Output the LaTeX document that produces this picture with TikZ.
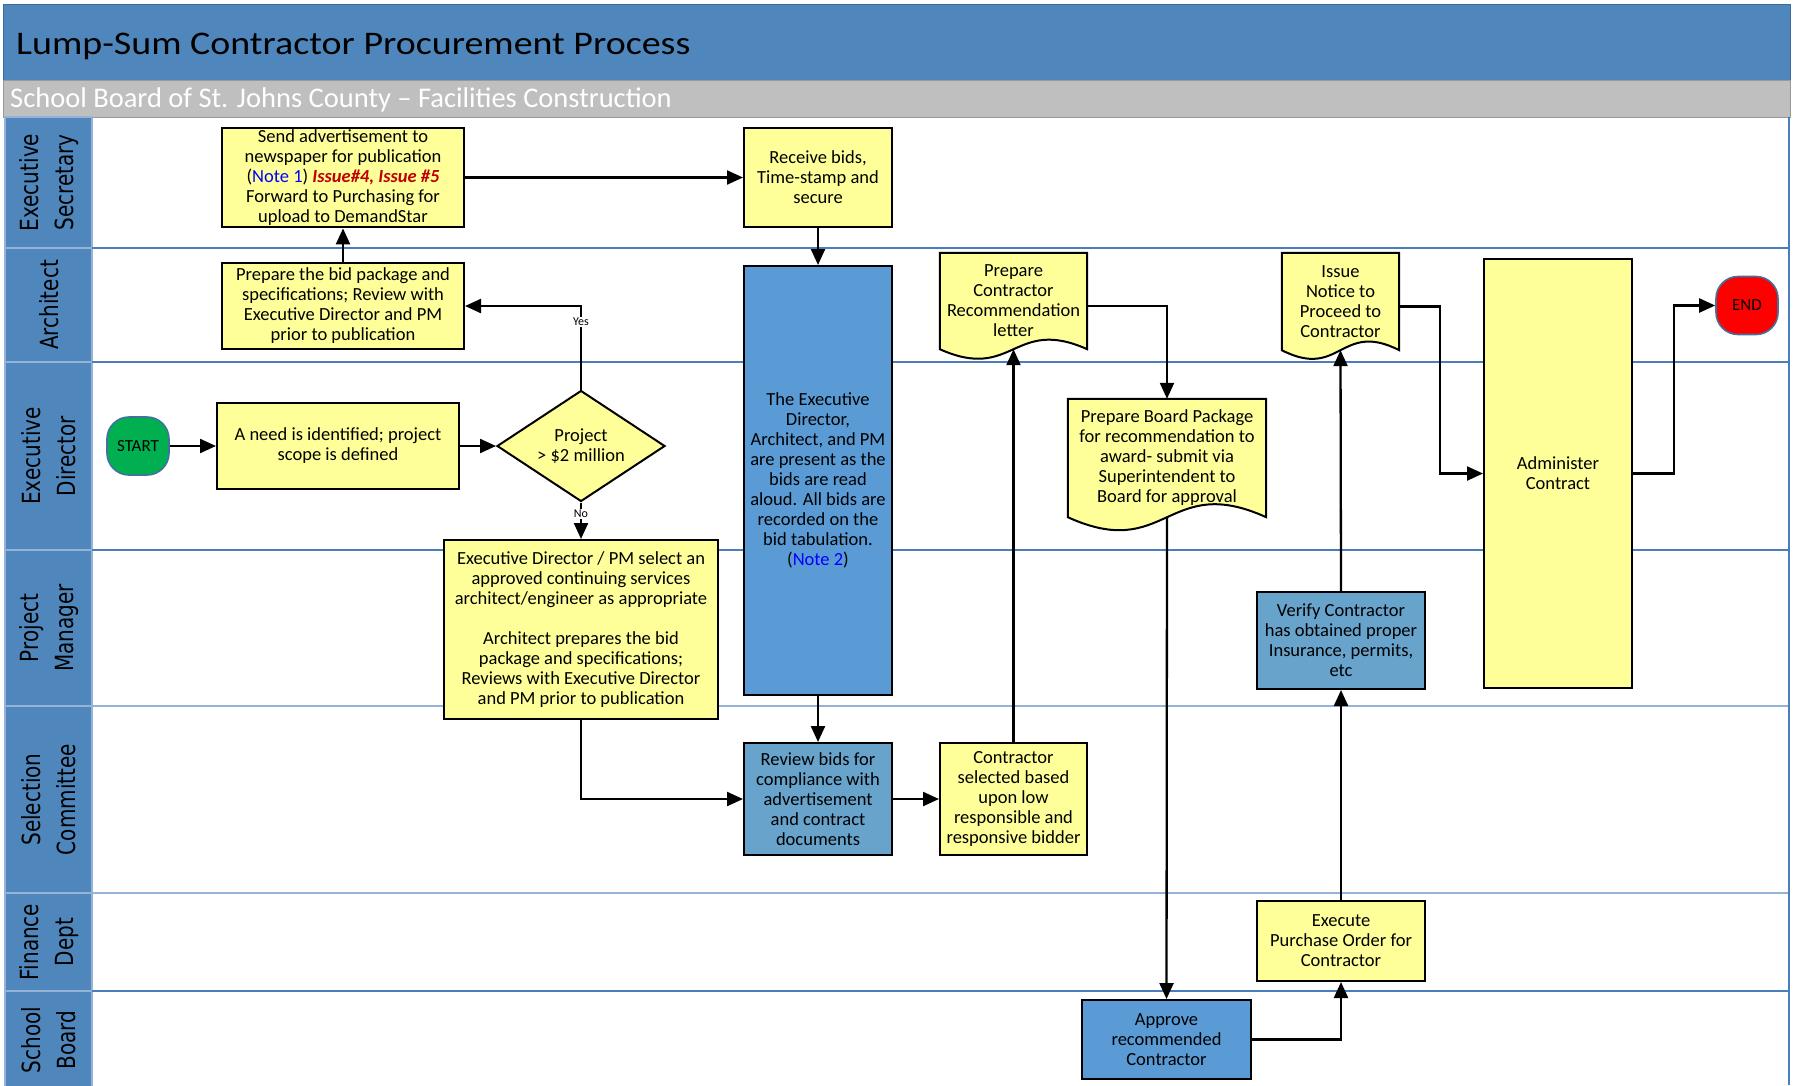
\documentclass[tikz,border=0pt]{standalone}
\usepackage{fontspec}
\setmainfont{Carlito}
\newfontfamily\lanefont[FakeStretch=0.8]{DejaVu Sans}
\newfontfamily\titlefont[FakeStretch=1.15]{Carlito}
\usetikzlibrary{shapes.geometric,arrows.meta,calc}
\pgfdeclarelayer{lanes}
\pgfdeclarelayer{docs}
\pgfsetlayers{lanes,docs,main}

\definecolor{barblue}{HTML}{4F87BD}
\definecolor{bardark}{HTML}{3E6C9A}
\definecolor{subgray}{HTML}{BFBFBF}
\definecolor{lanedark}{HTML}{4A7EBB}
\definecolor{lanelight}{HTML}{95B3D7}
\definecolor{procyellow}{HTML}{FFFF99}
\definecolor{bidblue}{HTML}{5B9BD5}
\definecolor{steelbox}{HTML}{67A3CB}
\definecolor{startgreen}{HTML}{00B050}
\definecolor{endred}{HTML}{FF0000}
\definecolor{termborder}{HTML}{41719C}
\definecolor{noteblue}{HTML}{0000FF}
\definecolor{issuered}{HTML}{C00000}

\newcommand{\bodysize}{\fontsize{18.5}{20}\selectfont}
\newcommand{\docshape}[3]{% node name, wave depth, fill colour
  \filldraw[docline, fill=#3] (#1.north west) -- (#1.north east) -- (#1.south east)
    .. controls ($(#1.south)+(0,-#2)$) and ($(#1.south)+(0,#2)$) .. (#1.south west) -- cycle;}

\begin{document}
\begin{tikzpicture}[x=1pt, y=-1pt,
  box/.style={rectangle, draw=black, line width=2pt, align=center, inner sep=2pt,
    font=\bodysize, text=black},
  proc/.style={box, fill=procyellow},
  bluebox/.style={box, fill=bidblue},
  steelproc/.style={box, fill=steelbox},
  docnode/.style={rectangle, align=center, inner sep=0pt, font=\bodysize},
  docline/.style={draw=black, line width=2pt},
  decision/.style={diamond, draw=black, line width=2pt, fill=procyellow, aspect=1.5,
    inner sep=0pt, align=center, font=\bodysize, minimum width=168pt, minimum height=111pt},
  terminal/.style={rectangle, rounded corners=22pt, draw=termborder, line width=1.6pt,
    minimum width=62pt, minimum height=58pt, inner sep=0pt, font=\fontsize{17}{20}\selectfont},
  flow/.style={draw=black, line width=2.3pt, line join=miter,
    -{Triangle[length=16pt,width=14pt]}},
  branch/.style={fill=white, inner sep=1pt, font=\fontsize{12}{13}\selectfont},
  lanehead/.style={fill=barblue, draw=lanelight, line width=1.2pt},
  lanelabel/.style={rotate=90, align=center, font=\lanefont\fontsize{25}{35}\selectfont},
]
\useasboundingbox (0,0) rectangle (1798,1085);

\begin{pgfonlayer}{lanes}
  \fill[white] (0,0) rectangle (1798,1085);
  % title and subtitle bars
  \filldraw[fill=barblue, draw=bardark, line width=1pt] (3,4) rectangle (1790,80);
  \filldraw[fill=subgray, draw=subgray!80!black, line width=0.6pt] (3,80) rectangle (1790,117);
  % lane header cells
  \path[lanehead] (5,117) rectangle (92,248);
  \path[lanehead] (5,248) rectangle (92,362);
  \path[lanehead] (5,362) rectangle (92,550);
  \path[lanehead] (5,550) rectangle (92,706);
  \path[lanehead] (5,706) rectangle (92,893);
  \path[lanehead] (5,893) rectangle (92,991);
  \path[lanehead] (5,991) rectangle (92,1090);
  % lane separators
  \draw[lanedark, line width=2.2pt] (92,248) -- (1789,248);
  \draw[lanedark, line width=2.2pt] (92,362) -- (1789,362);
  \draw[lanedark, line width=2.2pt] (92,550) -- (1789,550);
  \draw[lanelight, line width=2.6pt] (92,706) -- (1789,706);
  \draw[lanelight, line width=2.6pt] (92,893) -- (1789,893);
  \draw[lanedark, line width=2.6pt] (92,991) -- (1789,991);
  \draw[lanedark, line width=1.8pt] (1789,117) -- (1789,1085);
\end{pgfonlayer}

% titles
\node[anchor=west, inner sep=0pt, font=\titlefont\fontsize{33}{36}\selectfont] (title) at (16,46)
  {Lump-Sum Contractor Procurement Process};
\node[anchor=west, inner sep=0pt, text=white, font=\fontsize{28.5}{30}\selectfont] (subtitle) at (10,100)
  {School Board of St. Johns County -- Facilities Construction};

% lane labels
\node[lanelabel] (lES) at (49,182.5) {Executive\\Secretary};
\node[lanelabel] (lAR) at (49,305) {Architect};
\node[lanelabel] (lED) at (49,456) {Executive\\Director};
\node[lanelabel] (lPM) at (49,628) {Project\\Manager};
\node[lanelabel] (lSC) at (49,799.5) {Selection\\Committee};
\node[lanelabel] (lFD) at (49,942) {Finance\\Dept};
\node[lanelabel] (lSB) at (49,1040) {School\\Board};

% process steps
\node[proc, minimum width=242pt, minimum height=99pt] (ad) at (343,177.5)
  {Send advertisement to\\newspaper for publication\\(\textcolor{noteblue}{Note 1}) \textcolor{issuered}{\textbf{\textit{Issue\#4, Issue \#5}}}\\Forward to Purchasing for\\upload to DemandStar};
\node[proc, minimum width=148pt, minimum height=99pt] (recv) at (818,177.5)
  {Receive bids,\\Time-stamp and\\secure};
\node[proc, minimum width=242pt, minimum height=86pt] (prep) at (343,306)
  {Prepare the bid package and\\specifications; Review with\\Executive Director and PM\\prior to publication};
\node[bluebox, minimum width=148pt, minimum height=429pt] (bids) at (818,480.5)
  {The Executive\\Director,\\Architect, and PM\\are present as the\\bids are read\\aloud. All bids are\\recorded on the\\bid tabulation.\\(\textcolor{noteblue}{Note 2})};
\node[docnode, minimum width=147pt, minimum height=96pt] (letter) at (1013.5,301)
  {Prepare\\Contractor\\Recommendation\\letter};
\node[docnode, minimum width=117pt, minimum height=97pt] (notice) at (1340.5,301.5)
  {Issue\\Notice to\\Proceed to\\Contractor};
\node[proc, minimum width=148pt, minimum height=429pt] (admin) at (1558,473.5)
  {Administer\\Contract};
\node[terminal, fill=endred] (finish) at (1747,305.5) {END};
\node[terminal, fill=startgreen] (start) at (138,446) {START};
\node[proc, minimum width=242pt, minimum height=86pt] (need) at (338,446)
  {A need is identified; project\\scope is defined};
\node[decision] (dia) at (581,446) {Project\\> \$2 million};
\node[docnode, minimum width=198pt, minimum height=118pt] (board) at (1167,458)
  {Prepare Board Package\\for recommendation to\\award- submit via\\Superintendent to\\Board for approval};
\node[proc, minimum width=274pt, minimum height=179pt] (edpm) at (581,629.5)
  {Executive Director / PM select an\\approved continuing services\\architect/engineer as appropriate\\[20pt]Architect prepares the bid\\package and specifications;\\Reviews with Executive Director\\and PM prior to publication};
\node[steelproc, minimum width=168pt, minimum height=97pt] (verify) at (1341,640.5)
  {Verify Contractor\\has obtained proper\\Insurance, permits,\\etc};
\node[steelproc, minimum width=148pt, minimum height=112pt] (review) at (818,799)
  {Review bids for\\compliance with\\advertisement\\and contract\\documents};
\node[proc, minimum width=147pt, minimum height=112pt] (sel) at (1013.5,799)
  {Contractor\\selected based\\upon low\\responsible and\\responsive bidder};
\node[proc, minimum width=168pt, minimum height=80pt] (po) at (1341,941)
  {Execute\\Purchase Order for\\Contractor};
\node[bluebox, minimum width=169pt, minimum height=79pt] (approve) at (1166.5,1039.5)
  {Approve\\recommended\\Contractor};

% document outlines with wavy bottom edge
\begin{pgfonlayer}{docs}
  \docshape{letter}{33}{procyellow}
  \docshape{notice}{30}{procyellow}
  \docshape{board}{45}{procyellow}
\end{pgfonlayer}

% bend points
\coordinate (nbend) at (1440,0);
\coordinate (ebend) at (1674,0);

% connectors
\draw[flow] (start.east) -- (need.west);
\draw[flow] (need.east) -- (dia.west);
\draw[flow] (dia.north) -- (dia.north |- prep.east) -- (prep.east);
\node[branch] (yes) at (581,322) {Yes};
\draw[flow] (dia.south) -- (edpm.north);
\node[branch] (no) at (581,514) {No};
\draw[flow] (prep.north) -- (ad.south);
\draw[flow] (ad.east) -- (recv.west);
\draw[flow] (recv.south) -- (bids.north);
\draw[flow] (bids.south) -- (review.north);
\draw[flow] (edpm.south) -- (edpm.south |- review.west) -- (review.west);
\draw[flow] (review.east) -- (sel.west);
\draw[flow] (sel.north) -- (letter.south);
\draw[flow] ([yshift=-5pt]letter.east) -- ([yshift=-5pt]letter.east -| board.north) -- (board.north);
\draw[flow] (board.south) -- (approve.north);
\draw[flow] (approve.east) -- (approve.east -| po.south) -- (po.south);
\draw[flow] (po.north) -- (verify.south);
\draw[flow] (verify.north) -- (notice.south);
\draw[flow] ([yshift=-5pt]notice.east) -- ([yshift=-5pt]notice.east -| nbend) -- (nbend |- admin.west) -- (admin.west);
\draw[flow] (admin.east) -- (admin.east -| ebend) -- (ebend |- finish.west) -- (finish.west);
\end{tikzpicture}
\end{document}
